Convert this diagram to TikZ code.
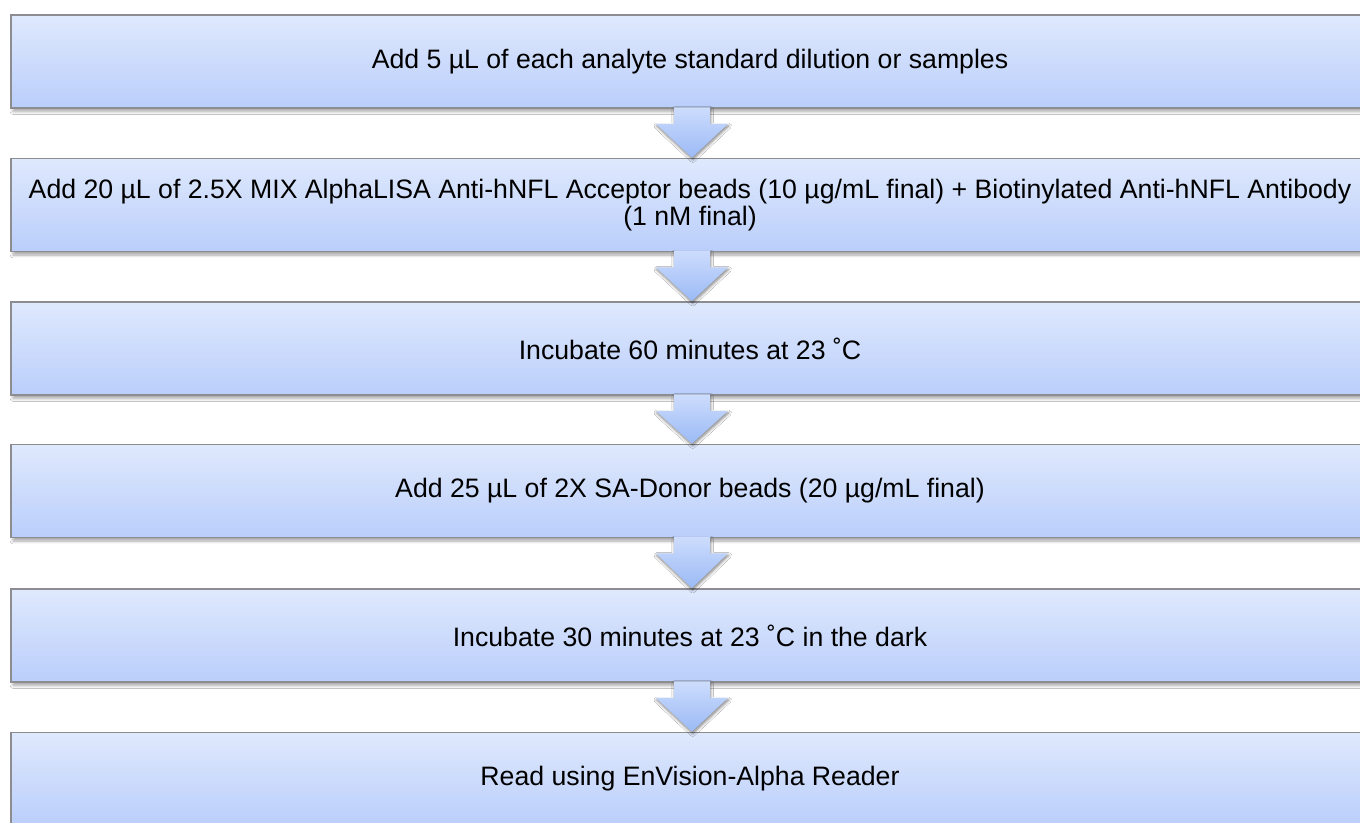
\documentclass[tikz,border=0pt]{standalone}
\usepackage{fontspec}
\setmainfont{Liberation Sans}
\usetikzlibrary{calc,shadows.blur}
\definecolor{boxtop}{RGB}{223,233,253}
\definecolor{boxbot}{RGB}{186,206,251}
\definecolor{arrtop}{RGB}{205,220,252}
\definecolor{arrbot}{RGB}{155,186,246}
\definecolor{edge}{RGB}{140,140,145}
\tikzset{
  stepbox/.style={draw=edge, line width=1.1pt, top color=boxtop, bottom color=boxbot,
    minimum width=1018.5pt, minimum height=70pt, inner sep=0pt, align=center,
    font=\fontsize{20pt}{20.5pt}\selectfont, text=black,
    blur shadow={shadow xshift=1.5pt, shadow yshift=-2.5pt, shadow blur steps=6, shadow opacity=35}},
  flowarrow/.style={top color=arrtop, bottom color=arrbot, draw=none,
    blur shadow={shadow xshift=0.5pt, shadow yshift=-1.5pt, shadow blur steps=5, shadow opacity=50}}
}
\newcommand\arrowbetween[2]{%
  \path[flowarrow] ($(#1.south)+(2,-1.5)+(-18,0)$) -- ($(#1.south)+(2,-1.5)+(18,0)$)
    -- ($(#1.south)+(2,0)+(18,15)$) -- ($(#1.south)+(2,0)+(36,15)$)
    -- ($(#2.north)+(2,0)$) -- ($(#1.south)+(2,0)+(-36,15)$)
    -- ($(#1.south)+(2,0)+(-18,15)$) -- cycle;}
\begin{document}
\begin{tikzpicture}[x=0.75pt,y=-0.75pt]
\useasboundingbox (0,0) rectangle (1360,822);
\fill[white] (0,0) rectangle (1360,822);
\node[stepbox] (b1) at (690,61.5) {Add 5 µL of each analyte standard dilution or samples};
\node[stepbox] (b2) at (690,205) {Add 20 µL of 2.5X MIX AlphaLISA Anti-hNFL Acceptor beads (10 µg/mL final) + Biotinylated Anti-hNFL Antibody\\(1 nM final)};
\node[stepbox] (b3) at (690,348.5) {Incubate 60 minutes at 23 ˚C};
\node[stepbox] (b4) at (690,491) {Add 25 µL of 2X SA-Donor beads (20 µg/mL final)};
\node[stepbox] (b5) at (690,635.5) {Incubate 30 minutes at 23 ˚C in the dark};
\node[stepbox] (b6) at (690,779) {Read using EnVision-Alpha Reader};
\arrowbetween{b1}{b2}
\arrowbetween{b2}{b3}
\arrowbetween{b3}{b4}
\arrowbetween{b4}{b5}
\arrowbetween{b5}{b6}
\end{tikzpicture}
\end{document}
